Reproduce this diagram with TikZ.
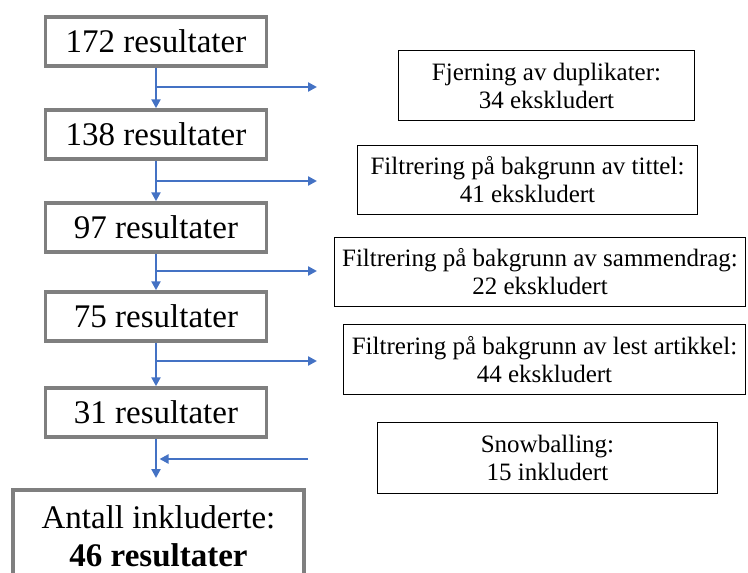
\documentclass[tikz,border=0pt]{standalone}
\usepackage{fontspec}
\setmainfont{Liberation Serif}
\usetikzlibrary{arrows.meta,calc}
\definecolor{flowblue}{HTML}{4472C4}
\definecolor{boxgray}{HTML}{7F7F7F}

\begin{document}
\begin{tikzpicture}[x=1pt,y=-1pt,
  countbox/.style={draw=boxgray,line width=3.5pt,inner sep=0pt,
    minimum width=221pt,minimum height=49pt,
    font=\fontsize{33}{38}\selectfont,align=center},
  notebox/.style={draw=black,line width=1.2pt,inner sep=0pt,
    font=\fontsize{25}{28}\selectfont,align=center},
  flow/.style={draw=flowblue,line width=2.5pt,
    -{Triangle[length=9pt,width=9pt]}}]
\useasboundingbox (0,0) rectangle (748,573);

% counts remaining after each step
\node[countbox] (b1) at (156,41.5)  {172 resultater};
\node[countbox] (b2) at (156,134.5) {138 resultater};
\node[countbox] (b3) at (156,227.5) {97 resultater};
\node[countbox] (b4) at (156,316.5) {75 resultater};
\node[countbox] (b5) at (156,412.5) {31 resultater};
\node[countbox,minimum width=291pt,minimum height=92pt] (b6) at (158.5,536)
  {Antall inkluderte:\\\textbf{46 resultater}};

% exclusion / inclusion notes
\node[notebox,minimum width=296pt,minimum height=70pt] (n1) at (546.5,85.5)
  {Fjerning av duplikater:\\34 ekskludert};
\node[notebox,minimum width=340pt,minimum height=69pt] (n2) at (527.5,180)
  {Filtrering på bakgrunn av tittel:\\41 ekskludert};
\node[notebox,minimum width=411pt,minimum height=69pt] (n3) at (540,272)
  {Filtrering på bakgrunn av sammendrag:\\22 ekskludert};
\node[notebox,minimum width=402pt,minimum height=70pt] (n4) at (544.5,359.5)
  {Filtrering på bakgrunn av lest artikkel:\\44 ekskludert};
\node[notebox,minimum width=340pt,minimum height=71pt] (n5) at (547.5,458)
  {Snowballing:\\15 inkludert};

% free ends of the side arrows
\coordinate (e1) at (317,87);
\coordinate (e2) at (317,181);
\coordinate (e3) at (317,271);
\coordinate (e4) at (317,361);
\coordinate (s0) at (308,459);
\coordinate (t6) at (156,478);

% main flow
\draw[flow] (b1.south) -- (b2.north);
\draw[flow] (b2.south) -- (b3.north);
\draw[flow] (b3.south) -- (b4.north);
\draw[flow] (b4.south) -- (b5.north);
\draw[flow] (b5.south) -- (t6);

% branches out to the right
\draw[flow] (b1.south |- e1) -- (e1);
\draw[flow] (b2.south |- e2) -- (e2);
\draw[flow] (b3.south |- e3) -- (e3);
\draw[flow] (b4.south |- e4) -- (e4);

% snowballing adds back in
\draw[flow,shorten >=3.5pt] (s0) -- (b5.south |- s0);
\end{tikzpicture}
\end{document}
